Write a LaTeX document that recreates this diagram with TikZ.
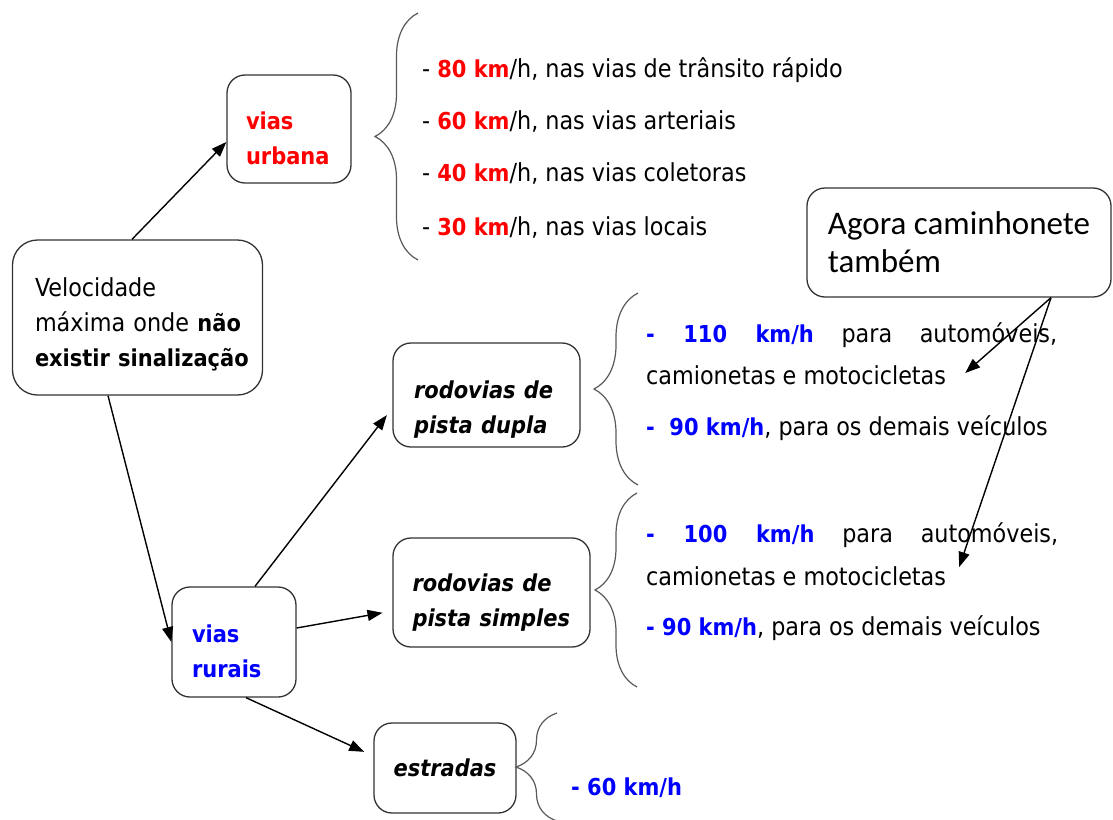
\documentclass[tikz,border=0pt]{standalone}
\usepackage{fontspec}
\setmainfont{DejaVu Sans Condensed}[BoldFeatures={Scale=0.94},BoldItalicFeatures={Scale=0.94}]
\newfontfamily\notafont{Carlito}
\usetikzlibrary{arrows.meta,decorations.pathreplacing}
\definecolor{vermelho}{RGB}{255,0,0}
\definecolor{azul}{RGB}{0,0,255}

\begin{document}
\begin{tikzpicture}[x=1pt,y=-1pt,
    box/.style={draw=black!80, line width=1.3pt, rounded corners=18pt, inner sep=0pt, align=left,
      font=\fontsize{24.8}{35}\selectfont},
    txt/.style={anchor=west, inner sep=0pt, font=\fontsize{24.8}{35}\selectfont},
    arr/.style={-{Triangle[length=15pt,width=11pt]}, line width=1.4pt},
    chave/.style={decorate, decoration={brace, amplitude=#1}, draw=black!65, line width=1.2pt}]
  \useasboundingbox (0,0) rectangle (1113,819);
  \clip (0,0) rectangle (1113,819);

  \node[box, minimum width=250pt, minimum height=155pt, text width=205pt, rounded corners=25pt] (V) at (137.5,317.5) {\rule{0pt}{33pt}Velocidade\\\mbox{m\'axima onde \textbf{n\~ao}}\\\mbox{\textbf{existir sinaliza\c{c}\~ao}}};
  \node[box, minimum width=124pt, minimum height=108pt, text width=86pt, inner xsep=19pt] (U) at (289,129) {\color{vermelho}\rule{0pt}{36pt}\textbf{vias}\\\textbf{urbana}};
  \node[box, minimum width=124pt, minimum height=110pt, text width=84pt, inner xsep=20pt] (R) at (234,642) {\color{azul}\rule{0pt}{36pt}\textbf{vias}\\\textbf{rurais}};
  \node[box, minimum width=187pt, minimum height=104pt, text width=145pt, inner xsep=21pt] (D) at (486.5,395) {\bfseries\itshape \makebox[148pt][s]{\rule{0pt}{46pt}rodovias de}\\pista dupla};
  \node[box, minimum width=197pt, minimum height=109pt, text width=158pt, inner xsep=19.5pt] (S) at (491.5,592.5) {\bfseries\itshape \makebox[160pt][s]{\rule{0pt}{38pt}rodovias de}\\pista simples};
  \node[box, minimum width=142pt, minimum height=90pt] (E) at (445,768) {\bfseries\itshape estradas};
  \node[box, minimum width=304pt, minimum height=109pt, font=\notafont\fontsize{33}{38}\selectfont] (N) at (959,242.5) {Agora caminhonete\\tamb\'em};

  % vias urbanas
  \draw[chave=43pt] (418,260) -- (418,13);
  \node[txt] (u1) at (422,70) {- \textcolor{vermelho}{\textbf{80 km}}/h, nas vias de tr\^ansito r\'apido};
  \node[txt] (u2) at (422,122) {- \textcolor{vermelho}{\textbf{60 km}}/h, nas vias arteriais};
  \node[txt] (u3) at (422,174) {- \textcolor{vermelho}{\textbf{40 km}}/h, nas vias coletoras};
  \node[txt] (u4) at (422,228) {- \textcolor{vermelho}{\textbf{30 km}}/h, nas vias locais};

  % pista dupla
  \draw[chave=44pt] (638,485) -- (638,293);
  \node[txt] (d1) at (646,335) {\makebox[411pt][s]{\textcolor{azul}{\textbf{- 110 km/h}} para autom\'oveis,}};
  \node[txt] (d2) at (646,375) {camionetas e motocicletas};
  \node[txt] (d3) at (646,428) {\textcolor{azul}{\textbf{-\ \ 90 km/h}}, para os demais ve\'iculos};

  % pista simples
  \draw[chave=42pt] (637,687) -- (637,493);
  \node[txt] (s1) at (646,535) {\makebox[412pt][s]{\textcolor{azul}{\textbf{- 100 km/h}} para autom\'oveis,}};
  \node[txt] (s2) at (646,576) {camionetas e motocicletas};
  \node[txt] (s3) at (646,628) {\textcolor{azul}{\textbf{- 90 km/h}}, para os demais ve\'iculos};

  % estradas
  \draw[chave=41pt] (557,821) -- (557,713);
  \node[txt] (e1) at (571,788) {\textcolor{azul}{\textbf{- 60 km/h}}};

  \draw[arr] ([xshift=-5.5pt]V.north) -- ([yshift=-13pt]U.west);
  \draw[arr] ([xshift=-29.5pt]V.south) -- (R.west);
  \draw[arr, shorten >=9pt] ([xshift=21pt]R.north) -- ([yshift=-13pt]D.west);
  \draw[arr, shorten >=10pt] ([yshift=14pt]R.east) -- ([yshift=-18.5pt]S.west);
  \draw[arr, shorten >=10pt] ([xshift=12pt]R.south) -- ([yshift=12pt]E.west);
  \draw[arr] ([xshift=92pt]N.south) -- ([xshift=19pt,yshift=2pt]d2.east);
  \draw[arr] ([xshift=92pt]N.south) -- ([xshift=13pt,yshift=9pt]s2.east);
\end{tikzpicture}
\end{document}
